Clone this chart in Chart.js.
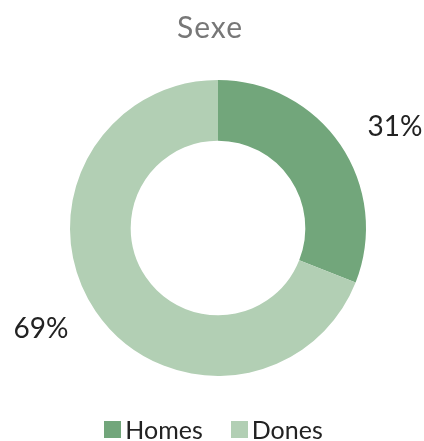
<!DOCTYPE html>
<html>
<head>
<meta charset="utf-8">
<script src="https://cdn.jsdelivr.net/npm/chart.js@4"></script>
<style>
html,body{margin:0;padding:0;background:#fff;}
#wrap{position:relative;width:424px;height:441px;}
#title{position:absolute;left:0;top:8px;width:420px;text-align:center;font-family:Lato,sans-serif;font-size:30px;letter-spacing:1px;color:#777;line-height:36px;}
#legend{position:absolute;left:0;top:414px;width:427px;height:30px;display:flex;justify-content:center;align-items:center;font-family:Lato,sans-serif;font-size:25px;color:#222;gap:28px;}
.item{display:flex;align-items:center;}
.box{width:17px;height:17px;margin-right:4px;}
</style>
</head>
<body>
<div id="wrap"><canvas id="c" width="424" height="441"></canvas><div id="title"></div><div id="legend"></div></div>
<script>
const categories = ["Homes", "Dones"];
const values = [31, 69];
const valueLabels = ["31%", "69%"];
const colors = ["#72a67b", "#b2cfb4"];
const titleText = "Sexe";

document.getElementById('title').textContent = titleText;
const legendEl = document.getElementById('legend');
categories.forEach((c, i) => {
  const it = document.createElement('div');
  it.className = 'item';
  const b = document.createElement('span');
  b.className = 'box';
  b.style.background = colors[i];
  const t = document.createElement('span');
  t.textContent = c;
  it.appendChild(b); it.appendChild(t);
  legendEl.appendChild(it);
});

const outsideLabels = {
  id: 'outsideLabels',
  afterDatasetsDraw(chart) {
    const ctx = chart.ctx;
    const meta = chart.getDatasetMeta(0);
    ctx.save();
    ctx.font = '400 28px Lato';
    ctx.fillStyle = '#222';
    ctx.textAlign = 'center';
    ctx.textBaseline = 'middle';
    meta.data.forEach((arc, i) => {
      const p = arc.getProps(['x','y','startAngle','endAngle','outerRadius'], true);
      const mid = (p.startAngle + p.endAngle) / 2;
      const rx = p.outerRadius + 66;
      const ry = p.outerRadius + 31;
      ctx.fillText(valueLabels[i], p.x + Math.cos(mid) * rx, p.y + Math.sin(mid) * ry);
    });
    ctx.restore();
  }
};

new Chart(document.getElementById('c'), {
  type: 'doughnut',
  data: {
    labels: categories,
    datasets: [{
      data: values,
      backgroundColor: colors,
      borderWidth: 0,
      hoverOffset: 0
    }]
  },
  options: {
    responsive: false,
    animation: false,
    cutout: '59%',
    layout: { padding: { left: 70, right: 58, top: 80, bottom: 65 } },
    plugins: {
      title: { display: false },
      legend: { display: false },
      tooltip: { enabled: false }
    }
  },
  plugins: [outsideLabels]
});
</script>
</body>
</html>
